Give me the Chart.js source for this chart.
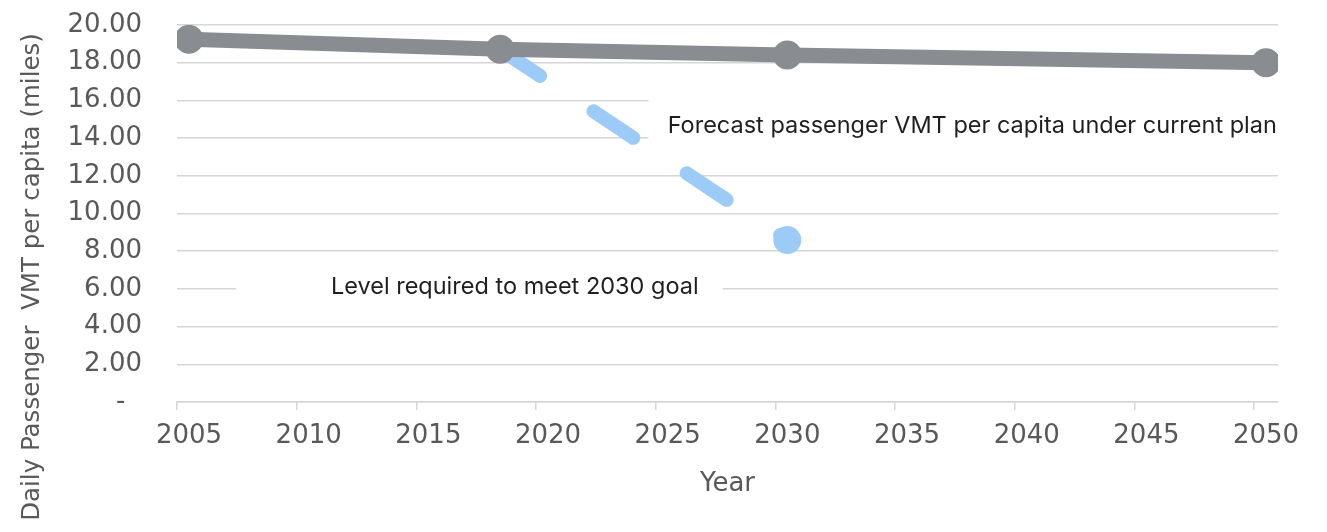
<!DOCTYPE html>
<html>
<head>
<meta charset="utf-8">
<script src="https://cdn.jsdelivr.net/npm/chart.js@4.4.1/dist/chart.umd.min.js"></script>
<style>
html,body{margin:0;padding:0;background:#fff;}
#wrap{width:1327px;height:532px;position:relative;}
</style>
</head>
<body>
<div id="wrap"><canvas id="c" width="1327" height="532"></canvas></div>
<script>
// ---- data ----
const forecastYears = [2005.5, 2018.5, 2030.5, 2050.5];
const forecastVMT = [19.24, 18.71, 18.41, 18.00];
const goalYears = [2018.5, 2030.5];
const goalVMT = [18.71, 8.59];
const xTickValues = [2005, 2010, 2015, 2020, 2025, 2030, 2035, 2040, 2045, 2050];
const xTickLabels = ['2005', '2010', '2015', '2020', '2025', '2030', '2035', '2040', '2045', '2050'];
const yTickValues = [0, 2, 4, 6, 8, 10, 12, 14, 16, 18, 20];
const yTickLabels = ['-  ', '2.00', '4.00', '6.00', '8.00', '10.00', '12.00', '14.00', '16.00', '18.00', '20.00'];
const xTitle = 'Year';
const yTitle = 'Daily Passenger  VMT per capita (miles)';
const forecastLabel = 'Forecast passenger VMT per capita under current plan';
const goalLabel = 'Level required to meet 2030 goal';

// annotation anchors in data units
const annotations = [
  { text: forecastLabel, x: 2025.5, y: 14.27, box: { x0: 2024.7, x1: 2051, y0: 16.55, y1: 12.84 } },
  { text: goalLabel, x: 2011.43, y: 5.73, box: { x0: 2007.46, x1: 2027.8, y0: 7.0, y1: 5.15 } }
];

const TICK_FONT = { family: 'DejaVu Sans', size: 26 };
const TICK_COLOR = '#595959';
const GRID_COLOR = '#d6d6d6';

const boxesPlugin = {
  id: 'boxes',
  beforeDatasetsDraw(chart) {
    const { ctx, scales: { x, y } } = chart;
    ctx.save();
    ctx.fillStyle = '#ffffff';
    annotations.forEach(a => {
      const x0 = x.getPixelForValue(a.box.x0), x1 = x.getPixelForValue(a.box.x1);
      const y0 = y.getPixelForValue(a.box.y0), y1 = y.getPixelForValue(a.box.y1);
      ctx.fillRect(x0, y0, x1 - x0, y1 - y0);
    });
    ctx.restore();
  },
  afterDraw(chart) {
    const { ctx, scales: { x, y }, chartArea } = chart;
    ctx.save();
    ctx.fillStyle = '#1f1f1f';
    ctx.font = '23.5px Inter';
    ctx.textAlign = 'left';
    ctx.textBaseline = 'alphabetic';
    annotations.forEach(a => {
      ctx.fillText(a.text, x.getPixelForValue(a.x), y.getPixelForValue(a.y));
    });
    // axis titles
    ctx.fillStyle = TICK_COLOR;
    ctx.font = '26px "DejaVu Sans"';
    ctx.textAlign = 'center';
    ctx.fillText(xTitle, (chartArea.left + chartArea.right) / 2, 491);
    ctx.translate(39, 277);
    ctx.rotate(-Math.PI / 2);
    ctx.font = '24.5px "DejaVu Sans"';
    ctx.fillText(yTitle, 0, 0);
    ctx.restore();
  }
};

function build() {
  new Chart(document.getElementById('c'), {
    type: 'line',
    data: {
      datasets: [
        {
          label: 'Forecast',
          data: forecastYears.map((v, i) => ({ x: v, y: forecastVMT[i] })),
          borderColor: '#898c90',
          backgroundColor: '#898c90',
          borderWidth: 15,
          borderJoinStyle: 'round',
          pointRadius: 13.5,
          pointHoverRadius: 13.5,
          pointBorderWidth: 2,
          pointBorderColor: '#898c90',
          pointBackgroundColor: '#898c90',
          tension: 0,
          order: 0
        },
        {
          label: 'Goal',
          data: goalYears.map((v, i) => ({ x: v, y: goalVMT[i] })),
          borderColor: '#9dcbf8',
          backgroundColor: '#9dcbf8',
          borderWidth: 14,
          borderDash: [48, 64],
          borderCapStyle: 'round',
          pointRadius: [0, 14],
          pointHoverRadius: [0, 14],
          pointBorderWidth: 0,
          pointBackgroundColor: '#9dcbf8',
          tension: 0,
          order: 1
        }
      ]
    },
    options: {
      responsive: false,
      animation: false,
      events: [],
      layout: { padding: { top: 25, right: 49, bottom: 0, left: 0 } },
      plugins: { legend: { display: false }, tooltip: { enabled: false } },
      scales: {
        x: {
          type: 'linear',
          min: 2005,
          max: 2051,
          afterBuildTicks: s => { s.ticks = xTickValues.map(v => ({ value: v })); },
          afterFit: s => { s.height = 130; s.paddingLeft = 0; s.paddingRight = 0; s.paddingTop = 0; s.paddingBottom = 0; },
          grid: { drawOnChartArea: false, drawTicks: true, tickLength: 8, color: GRID_COLOR, lineWidth: 1.5 },
          border: { display: true, color: GRID_COLOR, width: 1.5 },
          ticks: {
            font: TICK_FONT, color: TICK_COLOR, padding: 11, labelOffset: 12,
            maxRotation: 0, autoSkip: false,
            callback: (v, i) => xTickLabels[i]
          }
        },
        y: {
          min: 0,
          max: 20,
          afterBuildTicks: s => { s.ticks = yTickValues.map(v => ({ value: v })); },
          afterFit: s => { s.width = 177; s.paddingTop = 0; s.paddingBottom = 0; s.paddingLeft = 0; s.paddingRight = 0; },
          grid: { drawTicks: false, color: GRID_COLOR, lineWidth: 1.5 },
          border: { display: false },
          ticks: {
            font: TICK_FONT, color: TICK_COLOR, padding: 35,
            callback: (v, i) => yTickLabels[i]
          }
        }
      }
    },
    plugins: [boxesPlugin]
  });
}

if (document.fonts && document.fonts.load) {
  Promise.all([
    document.fonts.load('26px "DejaVu Sans"'),
    document.fonts.load('23.5px Inter')
  ]).then(build, build);
} else {
  build();
}
</script>
</body>
</html>
